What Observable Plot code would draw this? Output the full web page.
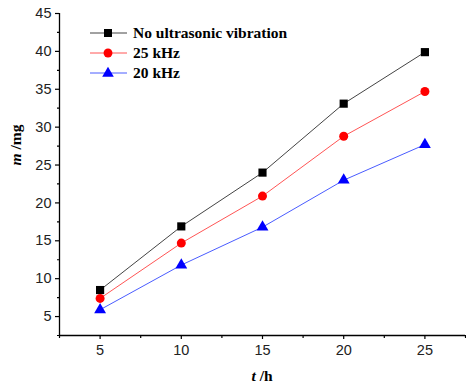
<!DOCTYPE html>
<html><head><meta charset="utf-8">
<script src="https://cdn.jsdelivr.net/npm/d3@7"></script>
<script src="https://cdn.jsdelivr.net/npm/@observablehq/plot@0.6"></script>
<style>body{margin:0;background:#fff}#c{position:relative}</style>
</head><body><div id="c"></div>
<script>
const hours = [5, 10, 15, 20, 25];
const noVibration = [8.5, 16.9, 24.0, 33.1, 39.9];
const khz25 = [7.4, 14.7, 20.9, 28.8, 34.7];
const khz20 = [5.9, 11.8, 16.8, 23.0, 27.7];
const seriesNames = ["No ultrasonic vibration", "25 kHz", "20 kHz"];
const xTicks = [5, 10, 15, 20, 25];
const yTicks = [5, 10, 15, 20, 25, 30, 35, 40, 45];

const colors = ["#000000", "#ff0000", "#0000ff"];
const lineColors = ["#444444", "#ff5555", "#4a5cff"];
const symbols = ["square", "circle", "triangle"];
const allSeries = [noVibration, khz25, khz20];
const data = allSeries.flatMap((vals, i) => hours.map((h, j) => ({t: h, m: vals[j], s: seriesNames[i]})));

const xMinor = d3.range(2.5, 27.6, 2.5).filter(v => !xTicks.includes(v));
const yMinor = d3.range(2.5, 45.1, 2.5).filter(v => !yTicks.includes(v));

const marks = [
  Plot.axisX({ticks: xTicks, tickSize: 4, tickPadding: 5, label: null, fontSize: 14.5, stroke: "#000", strokeWidth: 1.2}),
  Plot.axisX({ticks: xMinor, tickSize: 3, text: null, label: null, stroke: "#000", strokeWidth: 1.2}),
  Plot.axisY({ticks: yTicks, tickSize: 4, tickPadding: 4, label: null, fontSize: 14.5, stroke: "#000", strokeWidth: 1.2}),
  Plot.axisY({ticks: yMinor, tickSize: 2, text: null, label: null, stroke: "#000", strokeWidth: 1.2}),
  Plot.ruleX([2.5], {stroke: "#000", strokeWidth: 1.3}),
  Plot.ruleY([2.5], {stroke: "#000", strokeWidth: 1.3}),
];
seriesNames.forEach((name, i) => {
  const d = data.filter(r => r.s === name);
  marks.push(Plot.line(d, {x: "t", y: "m", stroke: lineColors[i], strokeWidth: 1}));
  marks.push(Plot.dot(d, {x: "t", y: "m", symbol: () => symbols[i], fill: colors[i], stroke: "none", r: i === 0 ? 4.6 : i === 1 ? 4.5 : 4.4}));
});

const chart = Plot.plot({
  width: 466, height: 385,
  marginLeft: 59, marginRight: 1, marginTop: 13, marginBottom: 50,
  x: {domain: [2.5, 27.5]},
  y: {domain: [2.5, 45]},
  style: {fontFamily: "'Liberation Sans', Arial, sans-serif", fontSize: "14.5px", color: "#222", background: "#fff"},
  marks
});
document.getElementById("c").appendChild(chart);

const svg = d3.select(chart);
// legend
const lg = svg.append("g").attr("font-family", "'Liberation Serif', 'Times New Roman', serif").attr("font-weight", "bold").attr("font-size", 15.5).attr("text-anchor", "start");
seriesNames.forEach((name, i) => {
  const y = 33 + i * 20;
  lg.append("line").attr("x1", 90).attr("x2", 127).attr("y1", y).attr("y2", y).attr("stroke", lineColors[i]).attr("stroke-width", 1);
  const sym = d3.symbol().type([d3.symbolSquare, d3.symbolCircle, d3.symbolTriangle][i]).size(i === 0 ? 64 : i === 1 ? 62 : 58);
  lg.append("path").attr("d", sym()).attr("transform", `translate(108,${y + (i === 2 ? 0.5 : 0)})`).attr("fill", colors[i]);
  lg.append("text").attr("x", 133).attr("y", y).attr("dy", "0.35em").attr("fill", "#000").text(name);
});
// axis titles
const yl = svg.append("text").attr("transform", "translate(21,145) rotate(-90)").attr("text-anchor", "middle")
  .attr("font-family", "'Liberation Serif', 'Times New Roman', serif").attr("font-weight", "bold").attr("font-size", 15.5).attr("fill", "#000");
yl.append("tspan").attr("font-style", "italic").text("m");
yl.append("tspan").text(" /mg");
const xl = svg.append("text").attr("x", 262).attr("y", 381).attr("text-anchor", "middle")
  .attr("font-family", "'Liberation Serif', 'Times New Roman', serif").attr("font-weight", "bold").attr("font-size", 15.5).attr("fill", "#000");
xl.append("tspan").attr("font-style", "italic").text("t");
xl.append("tspan").text(" /h");
</script></body></html>
